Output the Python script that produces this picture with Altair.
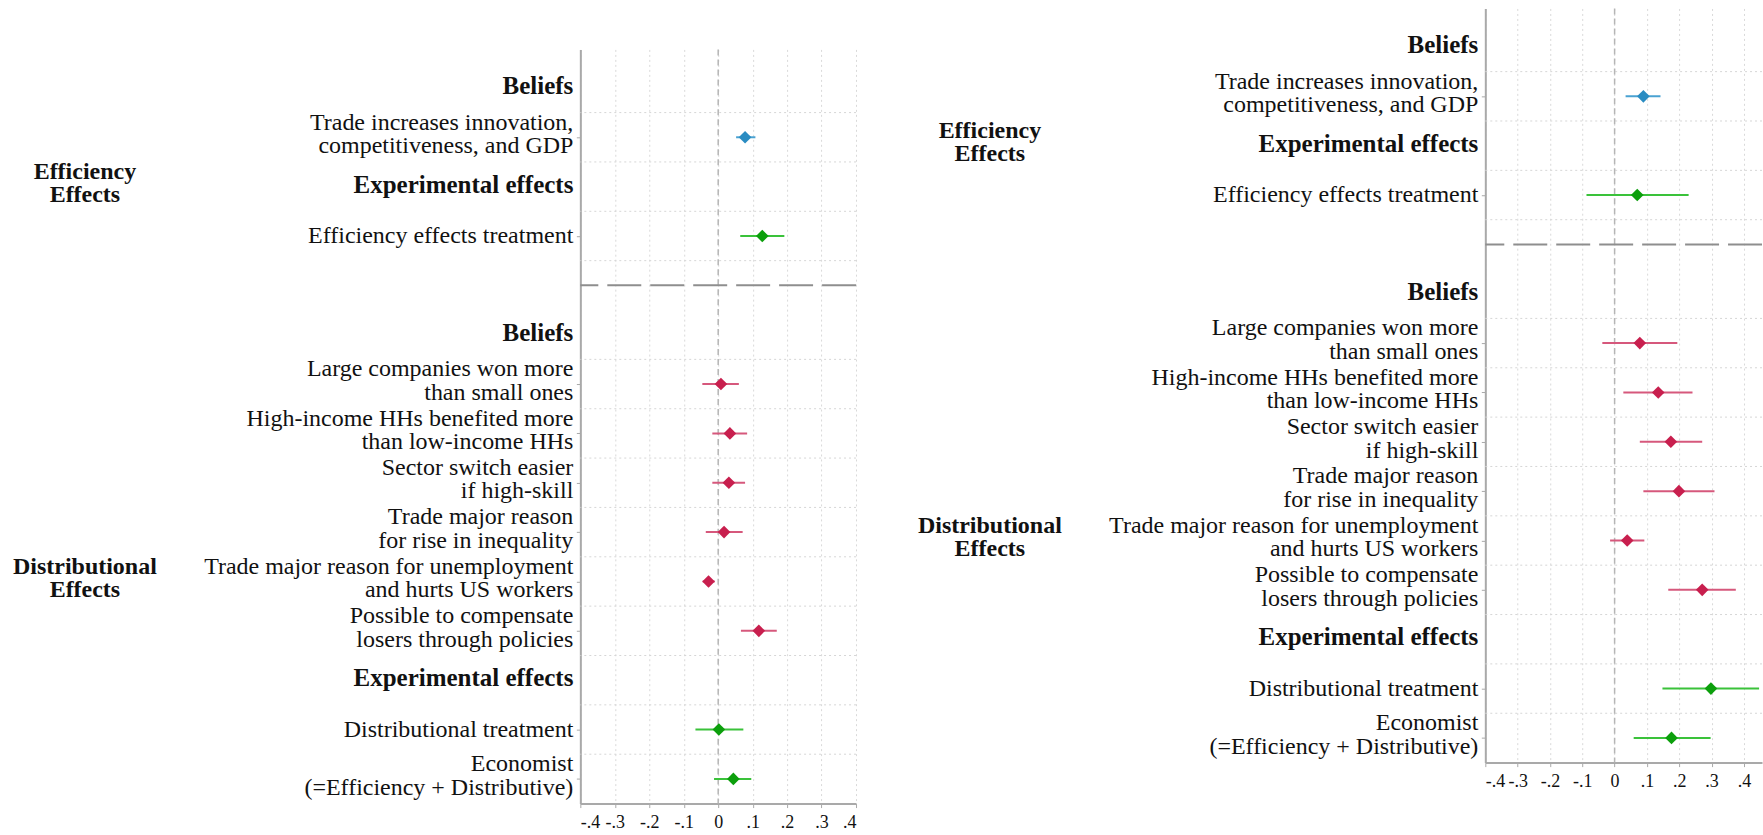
import altair as alt
import pandas as pd

# ---- rows, top to bottom (index = slot on the y scale) ----
row_labels = [
    "Beliefs",
    "Trade increases innovation,\ncompetitiveness, and GDP",
    "Experimental effects",
    "Efficiency effects treatment",
    "",
    "Beliefs",
    "Large companies won more\nthan small ones",
    "High-income HHs benefited more\nthan low-income HHs",
    "Sector switch easier\nif high-skill",
    "Trade major reason\nfor rise in inequality",
    "Trade major reason for unemployment\nand hurts US workers",
    "Possible to compensate\nlosers through policies",
    "Experimental effects",
    "Distributional treatment",
    "Economist\n(=Efficiency + Distributive)",
]
row_heading = [True, False, True, False, False, True, False, False,
               False, False, False, False, True, False, False]

group_labels = ["Efficiency\nEffects", "Distributional\nEffects"]
group_rows = [2, 10]
separator_rows = [4]
grid_rows = [0.5, 1.5, 2.5, 3.5, 5.5, 6.5, 7.5, 8.5, 9.5, 10.5, 11.5, 12.5, 13.5]

# ---- coefficients ----
coef_rows = [1, 3, 6, 7, 8, 9, 10, 11, 13, 14]
coef_kind = ["efficiency belief", "treatment",
             "distributional belief", "distributional belief", "distributional belief",
             "distributional belief", "distributional belief", "distributional belief",
             "treatment", "treatment"]

left_est = [0.078, 0.128, 0.008, 0.034, 0.031, 0.017, -0.028, 0.118, 0.002, 0.044]
left_lo = [0.052, 0.064, -0.046, -0.017, -0.017, -0.036, -0.045, 0.066, -0.066, -0.012]
left_hi = [0.108, 0.192, 0.060, 0.084, 0.078, 0.071, -0.010, 0.170, 0.073, 0.096]

right_est = [0.089, 0.070, 0.078, 0.135, 0.174, 0.199, 0.039, 0.271, 0.298, 0.176]
right_lo = [0.034, -0.087, -0.038, 0.027, 0.078, 0.089, -0.014, 0.166, 0.148, 0.059]
right_hi = [0.142, 0.229, 0.194, 0.241, 0.271, 0.309, 0.092, 0.375, 0.447, 0.297]

x_ticks = [-0.4, -0.3, -0.2, -0.1, 0.0, 0.1, 0.2, 0.3, 0.4]

kinds = ["efficiency belief", "distributional belief", "treatment"]
marker_colors = ["#2a8cc2", "#c81f4e", "#0c9f0c"]
ci_colors = ["#4aa2d2", "#d6587c", "#3ac23a"]

FONT = "Liberation Serif"
GRAY_AXIS = "#a9a9a9"
INK = "#111111"
LINE_H = 23.5

rows_df = pd.DataFrame({"row": list(range(len(row_labels))),
                        "label": row_labels, "heading": row_heading})
rows_df = rows_df[rows_df["label"] != ""]
groups_df = pd.DataFrame({"row": group_rows, "label": group_labels})
sep_df = pd.DataFrame({"row": separator_rows})
grid_df = pd.DataFrame({"row": grid_rows})
zero_df = pd.DataFrame({"v": [0.0]})

# Stata-style tick labels: -.4 ... 0 ... .4
TICK_EXPR = ("datum.value == 0 ? '0' : (datum.value < 0 ? '-' : '') + '.' + "
             "format(abs(datum.value) * 10, '.0f')")
TWO_LINES = "indexof(datum.label, '\\n') >= 0"


def panel(est, lo, hi, x_max, width):
    coef_df = pd.DataFrame({"row": coef_rows, "kind": coef_kind,
                            "est": est, "lo": lo, "hi": hi})
    yscale = alt.Scale(domain=[14.5, -0.78], nice=False, zero=False)
    yaxis = alt.Axis(values=coef_rows, labels=False, grid=False, title=None,
                     domainColor=GRAY_AXIS, domainWidth=2, tickColor=GRAY_AXIS,
                     tickSize=4, tickWidth=1)
    xscale = alt.Scale(domain=[-0.4, x_max], nice=False, zero=False)
    xaxis = alt.Axis(values=x_ticks, title=None, grid=True, gridColor="#d9d9d9",
                     gridDash=[2, 3], gridWidth=1,
                     domainColor=GRAY_AXIS, domainWidth=2, tickColor=GRAY_AXIS,
                     tickSize=4, labelFont=FONT, labelFontSize=18, labelColor=INK,
                     labelPadding=6, labelExpr=TICK_EXPR)

    def Y():
        return alt.Y("row:Q", scale=yscale, axis=yaxis)

    hgrid = alt.Chart(grid_df).mark_rule(color="#d6d6d6", strokeDash=[2, 3], strokeWidth=1).encode(
        y=Y())
    zero = alt.Chart(zero_df).mark_rule(color="#b5b5b5", strokeDash=[6, 4], strokeWidth=1.5).encode(
        x=alt.X("v:Q", scale=xscale, axis=xaxis))
    sep = alt.Chart(sep_df).mark_rule(color="#8e8e8e", strokeDash=[34, 9], strokeWidth=2).encode(
        y=Y())
    ci = alt.Chart(coef_df).mark_rule(strokeWidth=2).encode(
        x=alt.X("lo:Q", scale=xscale, axis=xaxis), x2="hi:Q", y=Y(),
        color=alt.Color("kind:N", scale=alt.Scale(domain=kinds, range=ci_colors), legend=None))
    pts = alt.Chart(coef_df).mark_point(shape="diamond", filled=True, size=160, opacity=1).encode(
        x=alt.X("est:Q", scale=xscale, axis=xaxis), y=Y(),
        color=alt.Color("kind:N", scale=alt.Scale(domain=kinds, range=marker_colors), legend=None))

    text_style = dict(align="right", baseline="middle", lineBreak="\n", font=FONT,
                      fontSize=24, lineHeight=LINE_H, color=INK)
    items1 = alt.Chart(rows_df).transform_filter(
        f"!datum.heading && !({TWO_LINES})").mark_text(**text_style).encode(
        x=alt.value(-7), y=Y(), text="label:N")
    # two-line labels: lift the block so the pair straddles the row
    items2 = alt.Chart(rows_df).transform_filter(TWO_LINES).mark_text(
        dy=-LINE_H / 2 - 3, **text_style).encode(x=alt.value(-7), y=Y(), text="label:N")
    heads = alt.Chart(rows_df).transform_filter("datum.heading").mark_text(
        align="right", baseline="middle", font=FONT, fontSize=25, fontWeight="bold",
        dy=-2, color=INK).encode(x=alt.value(-7), y=Y(), text="label:N")
    grp = alt.Chart(groups_df).mark_text(
        align="center", baseline="middle", lineBreak="\n", font=FONT, fontSize=24,
        lineHeight=LINE_H, fontWeight="bold", dy=-LINE_H / 2 - 3, color=INK).encode(
        x=alt.value(-496), y=Y(), text="label:N")
    return alt.layer(hgrid, zero, sep, ci, pts, items1, items2, heads, grp).resolve_scale(
        color="independent").properties(width=width, height=755)


left = panel(left_est, left_lo, left_hi, 0.4, 276)
right = panel(right_est, right_lo, right_hi, 0.456, 277)

# empty band that pushes the left panel 40px below the right one
top_gap = alt.Chart(zero_df).mark_rule(strokeOpacity=0).encode(
    x=alt.value(0), y=alt.value(0), y2=alt.value(40)).properties(width=276, height=40)
left_col = alt.vconcat(top_gap, left, spacing=0)

chart = alt.hconcat(left_col, right, spacing=60).properties(
    padding={"left": 12, "top": 7, "right": 0, "bottom": 0},
    background="white",
).configure_view(stroke=None)

chart.save("out.html", embed_options={"renderer": "svg", "actions": False})
